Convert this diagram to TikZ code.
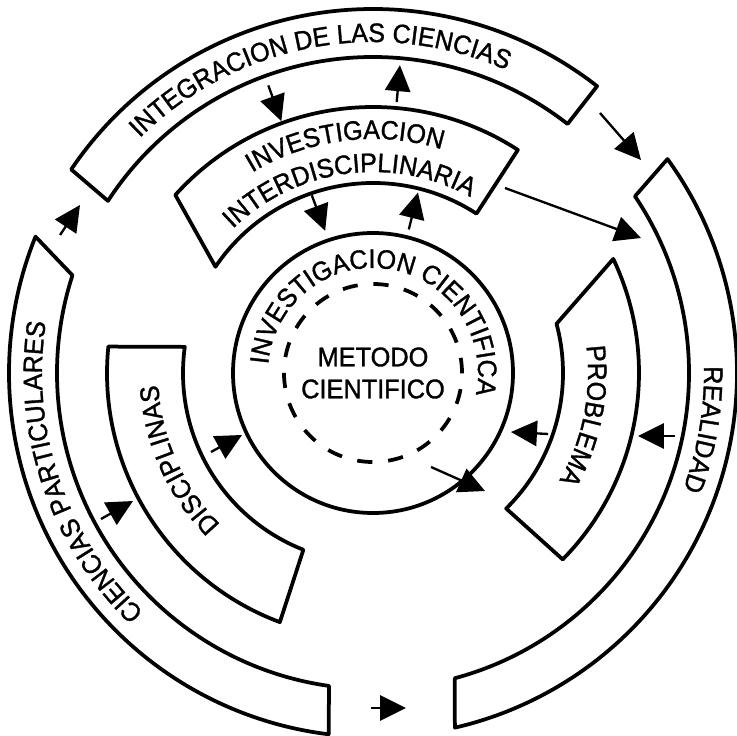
\documentclass[tikz,border=0pt]{standalone}
\usepackage{fontspec}
\setmainfont{Liberation Sans}[FakeStretch=0.94, FakeBold=1.2]
\usepackage{tikz}
\usetikzlibrary{arrows.meta, decorations.text}

\newcommand{\ringfont}{\fontsize{22.8}{27}\selectfont}

\tikzset{
  band/.style={line width=3.2pt, line join=round},
  flow/.style={line width=2pt, -{Triangle[length=7.8mm, width=7.6mm]}},
  curved/.style={decorate, decoration={text along path, text align=center, text={|\ringfont|#1}}}
}

\begin{document}
\begin{tikzpicture}[scale=0.03]
\useasboundingbox (-373,-362) rectangle (364,373);
% outer ring
\draw[band] (52:364) arc[start angle=52, end angle=146, radius=364] -- (147:316) arc[start angle=147, end angle=52, radius=316] -- cycle;
\draw[band] (36:364) arc[start angle=36, end angle=-77, radius=364] -- (-75:316) arc[start angle=-75, end angle=34, radius=316] -- cycle;
\draw[band] (158:364) arc[start angle=158, end angle=263, radius=364] -- (262:316) arc[start angle=262, end angle=162, radius=316] -- cycle;
% middle ring
\draw[band] (57:266) arc[start angle=57, end angle=138, radius=266] -- (146:190) arc[start angle=146, end angle=57, radius=190] -- cycle;
\draw[band] (174.3:266) arc[start angle=174.3, end angle=249.5, radius=266] -- (248.5:190) arc[start angle=248.5, end angle=172.1, radius=190] -- cycle;
\draw[band] (25.4:266) arc[start angle=25.4, end angle=-44.5, radius=266] -- (-45.5:190) arc[start angle=-45.5, end angle=15, radius=190] -- cycle;
% centre
\draw[band] (0,0) circle[radius=140];
\draw[band, dash pattern=on 13pt off 13.5pt] (0,0) circle[radius=89];

% labels
\path[curved={INTEGRACION DE LAS CIENCIAS}] (150.5:331) arc[start angle=150.5, end angle=50.5, radius=331];
\path[curved={REALIDAD}] (20.3:331) arc[start angle=20.3, end angle=-39.7, radius=331];
\path[curved={CIENCIAS PARTICULARES}] (248.7:331) arc[start angle=248.7, end angle=148.7, radius=331];
\path[curved={INVESTIGACION}] (147:234) arc[start angle=147, end angle=47, radius=234];
\path[curved={INTERDISCIPLINARIA}] (147.6:201) arc[start angle=147.6, end angle=47.6, radius=201];
\path[curved={DISCIPLINAS}] (254:215) arc[start angle=254, end angle=154, radius=215];
\path[curved={PROBLEMA}] (38.6:215) arc[start angle=38.6, end angle=-61.4, radius=215];
\path[curved={INVESTIGACION CIENTIFICA}] (191.75:105) arc[start angle=191.75, end angle=-28.25, radius=105];
\node[font=\fontsize{23}{27.3}\selectfont, align=center, inner sep=0] (metodo) at (0,0) {METODO\\CIENTIFICO};

% arrow ends
\coordinate (intgIn) at (110:306);
\coordinate (interTop) at (110:268);
\coordinate (interUp) at (85:272);
\coordinate (intgLow) at (85:309);
\coordinate (interIn) at (109:188);
\coordinate (circTop) at (108.6:150);
\coordinate (circUp) at (76:148);
\coordinate (interLow) at (76:186);
\coordinate (intgEnd) at (227,260);
\coordinate (realTop) at (268,213);
\coordinate (interEnd) at (132,185);
\coordinate (realMid) at (268,135);
\coordinate (partTop) at (-313,138);
\coordinate (intgStart) at (-293,168);
\coordinate (partIn) at (-272,-146);
\coordinate (discOut) at (-240,-128);
\coordinate (discIn) at (-162,-79);
\coordinate (circLeft) at (-131,-62);
\coordinate (realIn) at (302,-63);
\coordinate (probOut) at (265,-63);
\coordinate (probIn) at (175,-61);
\coordinate (circRight) at (138,-59);
\coordinate (metIn) at (58,-94);
\coordinate (circLow) at (112,-118);
\coordinate (partEnd) at (-2,-335);
\coordinate (realEnd) at (33,-335);

\draw[flow] (intgIn) -- (interTop);
\draw[flow] (interUp) -- (intgLow);
\draw[flow] (interIn) -- (circTop);
\draw[flow] (circUp) -- (interLow);
\draw[flow] (intgEnd) -- (realTop);
\draw[flow] (interEnd) -- (realMid);
\draw[flow] (partTop) -- (intgStart);
\draw[flow] (partIn) -- (discOut);
\draw[flow] (discIn) -- (circLeft);
\draw[flow] (realIn) -- (probOut);
\draw[flow] (probIn) -- (circRight);
\draw[flow] (metIn) -- (circLow);
\draw[flow] (partEnd) -- (realEnd);
\end{tikzpicture}
\end{document}
